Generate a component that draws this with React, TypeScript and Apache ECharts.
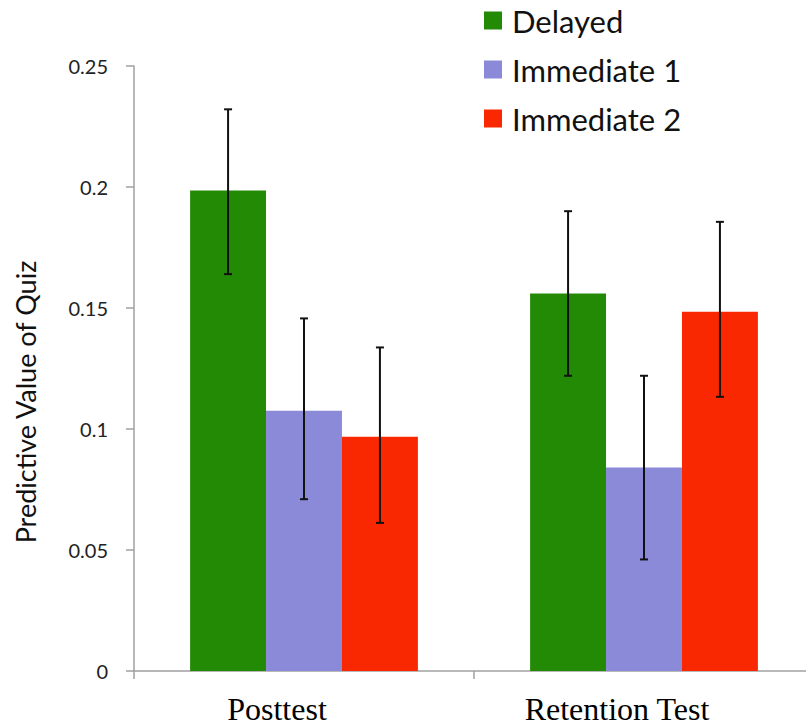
import React, { useEffect, useRef } from "react";
import * as echarts from "echarts";

const categories = ["Posttest", "Retention Test"];
const seriesNames = ["Delayed", "Immediate 1", "Immediate 2"];
const delayed = [0.1986, 0.156];
const immediate1 = [0.1075, 0.0841];
const immediate2 = [0.0968, 0.1484];
const delayedErr = [[0.164, 0.2321], [0.122, 0.19]];
const immediate1Err = [[0.071, 0.1457], [0.0461, 0.122]];
const immediate2Err = [[0.0612, 0.1337], [0.1133, 0.1856]];
const colors = ["#238a06", "#8a8ad9", "#f92800"];

export default function App() {
  const ref = useRef<HTMLDivElement>(null);
  useEffect(() => {
    document.body.style.margin = "0";
    const chart = echarts.init(ref.current!, null, { renderer: "svg" });
    const values = [delayed, immediate1, immediate2];
    const errs = [delayedErr, immediate1Err, immediate2Err];
    const gapPct = 0.33;
    const errData: any[] = [];
    errs.forEach((e, s) => e.forEach((lh, c) => errData.push([c, lh[0], lh[1], s])));
    const barSeries = seriesNames.map((n, i) => ({
      name: n,
      type: "bar",
      data: values[i],
      barGap: "0%",
      barCategoryGap: "33%",
      itemStyle: { color: colors[i] },
    }));
    chart.setOption({
      animation: false,
      grid: { left: 134, top: 66, width: 680, height: 605 },
      legend: {
        orient: "vertical",
        left: 479,
        top: 0,
        itemWidth: 18,
        itemHeight: 18,
        itemGap: 18,
        icon: "rect",
        data: seriesNames,
        textStyle: { fontFamily: "Lato", fontSize: 31, color: "#111", padding: [0, 0, 0, 5] },
      },
      xAxis: {
        type: "category",
        data: categories,
        axisLine: { lineStyle: { color: "#a0a0a0", width: 1.5 } },
        axisTick: { show: true, length: 8, lineStyle: { color: "#a0a0a0", width: 1.5 } },
        axisLabel: {
          fontFamily: "Liberation Serif",
          fontSize: 32,
          color: "#000",
          margin: 22,
          padding: [0, 54, 0, 0],
        },
      },
      yAxis: {
        type: "value",
        min: 0,
        max: 0.25,
        interval: 0.05,
        splitLine: { show: false },
        axisLine: { show: true, lineStyle: { color: "#a0a0a0", width: 1.5 } },
        axisTick: { show: true, length: 8, lineStyle: { color: "#a0a0a0", width: 1.5 } },
        axisLabel: {
          fontFamily: "Lato",
          fontSize: 20,
          color: "#222",
          margin: 26,
          padding: [18, 0, 0, 0],
        },
      },
      graphic: [
        {
          type: "text",
          x: 25,
          y: 402,
          rotation: Math.PI / 2,
          style: {
            text: "Predictive Value of Quiz",
            fontFamily: "Lato",
            fontSize: 27,
            fill: "#111",
            align: "center",
            verticalAlign: "middle",
          },
        },
      ],
      series: [
        ...barSeries,
        {
          type: "custom",
          data: errData,
          z: 10,
          renderItem: (params: any, api: any) => {
            const c = api.value(0);
            const s = api.value(3);
            const bw = api.size([1, 0])[0];
            const barW = (bw * (1 - gapPct)) / 3;
            const off = (s - 1) * barW;
            const hi = api.coord([c, api.value(2)]);
            const lo = api.coord([c, api.value(1)]);
            const x = hi[0] + off;
            const cap = 4;
            const style = { stroke: "#111", lineWidth: 2 };
            return {
              type: "group",
              children: [
                { type: "line", shape: { x1: x, y1: hi[1], x2: x, y2: lo[1] }, style },
                { type: "line", shape: { x1: x - cap, y1: hi[1], x2: x + cap, y2: hi[1] }, style },
                { type: "line", shape: { x1: x - cap, y1: lo[1], x2: x + cap, y2: lo[1] }, style },
              ],
            };
          },
        },
      ],
    });
    return () => chart.dispose();
  }, []);
  return (
    <div style={{ width: 806, height: 728, overflow: "hidden" }}>
      <div ref={ref} style={{ width: 830, height: 728 }} />
    </div>
  );
}
